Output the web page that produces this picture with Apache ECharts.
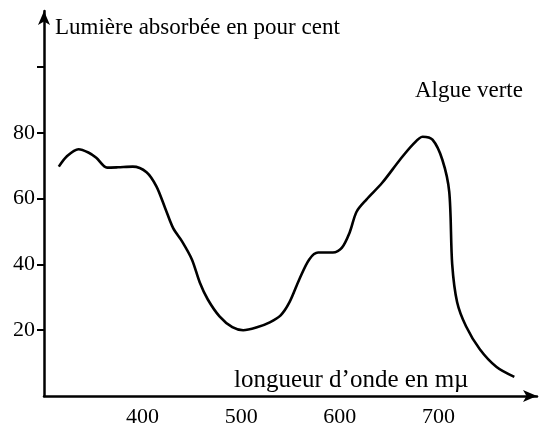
<!DOCTYPE html>
<html>
<head>
<meta charset="utf-8">
<script src="https://cdn.jsdelivr.net/npm/echarts@6/dist/echarts.min.js"></script>
<style>
  html, body { margin: 0; padding: 0; background: #fff; }
  #main { width: 548px; height: 425px; }
</style>
</head>
<body>
<div id="main"></div>
<script>
    // wavelength (m\u00b5) and absorbed light (%)
    var wavelengths = [315, 323, 335, 345, 353, 364, 375, 390, 404, 414, 423, 431, 440, 450, 458, 466,
        478, 491, 502, 516, 529, 540, 549, 559, 569, 578, 593, 602, 610, 617, 627, 643, 661, 674,
        684, 694, 704, 711, 714, 719, 728, 742, 759, 777];
    var absorbed = [69.7, 72.8, 75, 74, 72.4, 69.4, 69.5, 69.7, 68, 63.7, 57, 51, 47, 41.5, 34.5, 29.4,
        24.2, 20.9, 20, 20.9, 22.4, 24.5, 28.5, 35.5, 41.5, 43.6, 43.6, 45, 49.7, 56, 59.7, 64.8, 71.8, 76.4,
        78.8, 77.9, 71.8, 62, 40, 28.5, 21.2, 14.2, 8.8, 5.8];
    var xTickLabels = [400, 500, 600, 700];
    var yTicks = [20, 40, 60, 80, 100];
    var yTickLabels = [20, 40, 60, 80];

    var serif = '"Liberation Serif", "DejaVu Serif", serif';

    var points = [];
    for (var i = 0; i < wavelengths.length; i++) {
        points.push([wavelengths[i], absorbed[i]]);
    }

    var chart = echarts.init(document.getElementById('main'));
    chart.setOption({
        animation: false,
        backgroundColor: '#fff',
        grid: { left: 44, right: 11, top: 11, bottom: 29, outerBoundsMode: 'none', containLabel: false },
        xAxis: {
            type: 'value',
            min: 300,
            max: 800,
            interval: 100,
            splitLine: { show: false },
            axisTick: { show: false },
            axisLine: {
                show: true,
                onZero: false,
                symbol: ['none', 'arrow'],
                symbolSize: [9, 14],
                lineStyle: { color: '#000', width: 2.5 }
            },
            axisLabel: {
                customValues: xTickLabels,
                margin: 10,
                color: '#000',
                fontFamily: serif,
                fontSize: 22
            }
        },
        yAxis: {
            type: 'value',
            min: 0,
            max: 117,
            interval: 20,
            splitLine: { show: false },
            axisTick: {
                show: true,
                customValues: yTicks,
                length: 7,
                lineStyle: { color: '#000', width: 2 }
            },
            axisLine: {
                show: true,
                symbol: ['none', 'arrow'],
                symbolSize: [9, 14],
                lineStyle: { color: '#000', width: 2.5 }
            },
            axisLabel: {
                customValues: yTickLabels,
                margin: 9,
                color: '#000',
                fontFamily: serif,
                fontSize: 22
            }
        },
        graphic: [
            {
                type: 'text', left: 55, top: 16,
                style: { text: 'Lumière absorbée en pour cent', font: '23px ' + serif, fill: '#000' }
            },
            {
                type: 'text', left: 415, top: 79,
                style: { text: 'Algue verte', font: '23px ' + serif, fill: '#000' }
            },
            {
                type: 'text', left: 234, top: 368,
                style: { text: 'longueur d\u2019onde en mµ', font: '25px ' + serif, fill: '#000' }
            }
        ],
        series: [{
            type: 'line',
            data: points,
            smooth: 0.3,
            showSymbol: false,
            lineStyle: { color: '#000', width: 2.6 }
        }]
    });
</script>
</body>
</html>
